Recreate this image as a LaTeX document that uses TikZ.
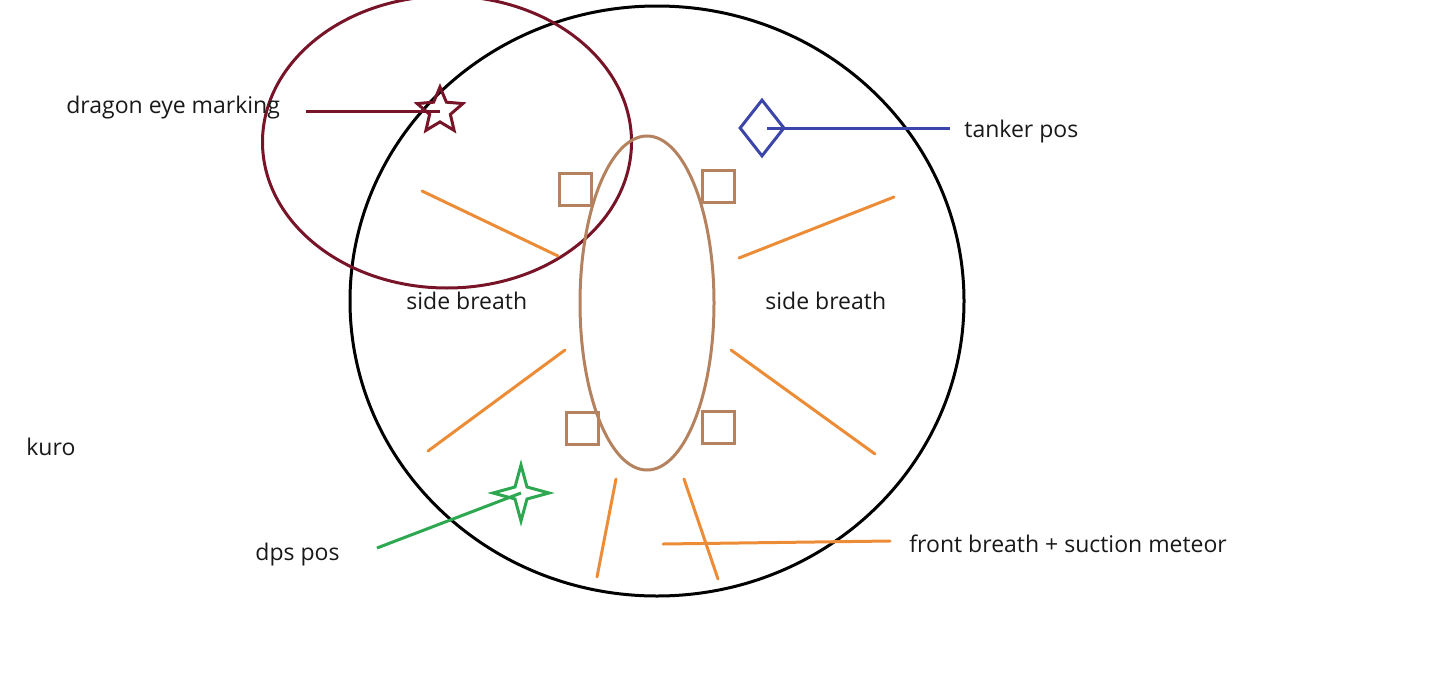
\documentclass[tikz,border=0pt]{standalone}
\usepackage{fontspec}
\setmainfont{Open Sans}
\usetikzlibrary{shapes.geometric}
\definecolor{maroon}{RGB}{120,20,40}
\definecolor{bluemk}{RGB}{60,70,170}
\definecolor{greenmk}{RGB}{45,168,80}
\definecolor{brownmk}{RGB}{180,130,95}
\definecolor{orangemk}{RGB}{237,140,55}
\tikzset{
  lbl/.style={anchor=base west, inner sep=0pt, font=\fontsize{11.5}{14}\selectfont, text=black!90},
  ring/.style={draw, ellipse, inner sep=0pt, line width=1.5pt},
  sq/.style={draw=brownmk, rectangle, line width=1.5pt, minimum size=16pt, inner sep=0pt},
  breath/.style={draw=orangemk, line width=1.5pt, line cap=round},
  mk/.style={line width=1.5pt},
}
\begin{document}
\begin{tikzpicture}[x=0.5pt,y=-0.5pt]
\useasboundingbox (0,0) rectangle (1440,696);
% arena
\node[ring, draw=black, minimum width=307pt, minimum height=295pt] (arena) at (657,301) {};
% dragon eye area
\node[ring, draw=maroon, minimum width=184.5pt, minimum height=146pt] (eye) at (447,142) {};
% boss
\node[ring, draw=brownmk, minimum width=67pt, minimum height=167pt] (boss) at (647,303) {};
% squares
\node[sq] (sq1) at (575,189) {};
\node[sq] (sq2) at (718,186) {};
\node[sq] (sq3) at (582,428) {};
\node[sq] (sq4) at (718,427) {};
% breath lines
\coordinate (b1a) at (422,191); \coordinate (b1b) at (558,256);
\coordinate (b2a) at (739,258); \coordinate (b2b) at (894,197);
\coordinate (b3a) at (565,350); \coordinate (b3b) at (428,451);
\coordinate (b4a) at (731,350); \coordinate (b4b) at (875,454);
\coordinate (b5a) at (616,479); \coordinate (b5b) at (597,577);
\coordinate (b6a) at (684,479); \coordinate (b6b) at (718,579);
\coordinate (fa) at (663,544); \coordinate (fb) at (890,541);
\draw[breath] (b1a) -- (b1b);
\draw[breath] (b2a) -- (b2b);
\draw[breath] (b3a) -- (b3b);
\draw[breath] (b4a) -- (b4b);
\draw[breath] (b5a) -- (b5b);
\draw[breath] (b6a) -- (b6b);
\draw[breath] (fa) -- (fb);
% markers
\node[draw=maroon, mk, star, star points=5, star point ratio=2.2, minimum size=24pt, inner sep=0pt] (eyestar) at (440,111) {};
\node[draw=bluemk, mk, diamond, minimum width=22.5pt, minimum height=28.5pt, inner sep=0pt] (tank) at (762,128) {};
\node[draw=greenmk, mk, star, star points=4, star point ratio=3.3, minimum size=28pt, inner sep=0pt] (dps) at (521,493) {};
% labels
\node[lbl] (teye) at (66,113) {dragon eye marking};
\node[lbl] (ttank) at (964,137) {tanker pos};
\node[lbl] (tside1) at (406,309) {side breath};
\node[lbl] (tside2) at (765,309) {side breath};
\node[lbl] (tkuro) at (26,455) {kuro};
\node[lbl] (tdps) at (255,560) {dps pos};
\node[lbl] (tfront) at (909,552) {front breath + suction meteor};
% pointer lines
\coordinate (peye) at (306,111);
\coordinate (ptank) at (950,128);
\coordinate (pdps) at (377,548);
\draw[maroon, mk] (peye) -- (eyestar.center);
\draw[bluemk, mk] (ptank) -- ([xshift=2.5pt]tank.center);
\draw[greenmk, mk] (pdps) -- (dps.center);
\end{tikzpicture}
\end{document}
